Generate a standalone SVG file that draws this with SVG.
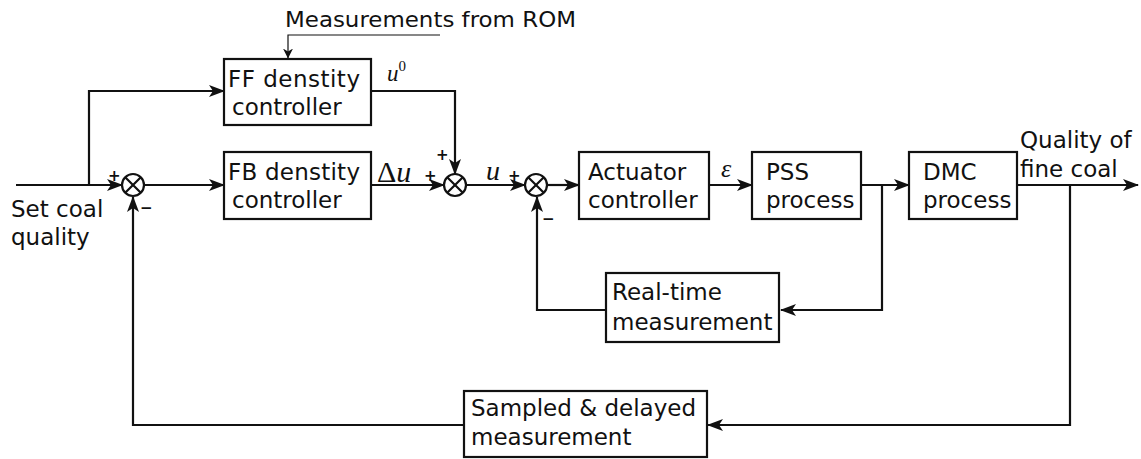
<svg xmlns="http://www.w3.org/2000/svg" width="1141" height="459" viewBox="0 0 1141 459">
<defs>
<style>
.box{fill:#fff;stroke:#111;stroke-width:2.2}
.t{font-family:"DejaVu Sans",Verdana,sans-serif;font-size:23px;fill:#111}
.s{font-family:"DejaVu Sans",Verdana,sans-serif;font-size:21px;fill:#111}
.m{font-family:"Liberation Serif","DejaVu Serif",serif;font-style:italic;fill:#111}
.sg{font-family:"DejaVu Sans",sans-serif;font-weight:bold;font-size:15px;fill:#111}
.w{fill:none;stroke:#111;stroke-width:2.2}
.thin{fill:none;stroke:#111;stroke-width:1.2}
.sum{fill:#fff;stroke:#111;stroke-width:2.2}
</style>
<marker id="ah" markerUnits="userSpaceOnUse" markerWidth="16" markerHeight="12" viewBox="0 0 16 12" refX="15" refY="6" orient="auto">
<path d="M0,0 L16,6 L0,12 L4,6 z" fill="#111"/>
</marker>
<marker id="ahs" markerUnits="userSpaceOnUse" markerWidth="10" markerHeight="10" viewBox="0 0 10 10" refX="9.5" refY="5" orient="auto">
<path d="M0,0 L10,5 L0,10 L3,5 z" fill="#111"/>
</marker>
</defs>
<rect width="1141" height="459" fill="#fff"/>

<g id="connectors">
<path class="w" d="M16,185 L122,185" marker-end="url(#ah)"/>
<path class="w" d="M89,185 L89,91 L224,91" marker-end="url(#ah)"/>
<path class="w" d="M144,185 L224,185" marker-end="url(#ah)"/>
<path class="w" d="M371,185 L444,185" marker-end="url(#ah)"/>
<path class="w" d="M371,91 L455,91 L455,174" marker-end="url(#ah)"/>
<path class="w" d="M466,185 L525,185" marker-end="url(#ah)"/>
<path class="w" d="M547,185 L579,185" marker-end="url(#ah)"/>
<path class="w" d="M709,185 L752,185" marker-end="url(#ah)"/>
<path class="w" d="M861,185 L909,185" marker-end="url(#ah)"/>
<path class="w" d="M1017,185 L1138,185" marker-end="url(#ah)"/>
<path class="w" d="M882,185 L882,310 L781,310" marker-end="url(#ah)"/>
<path class="w" d="M606,310 L537,310 L537,197" marker-end="url(#ah)"/>
<path class="w" d="M1070,185 L1070,425 L708,425" marker-end="url(#ah)"/>
<path class="w" d="M464,425 L133,425 L133,197" marker-end="url(#ah)"/>
<path class="thin" d="M440,35 L288,35 L288,58" marker-end="url(#ahs)"/>
</g>

<g id="input-label">
<text class="t" x="11" y="217">Set coal</text>
<text class="t" x="11" y="245">quality</text>
</g>

<g id="rom-label">
<text class="s" x="285" y="27" textLength="291" lengthAdjust="spacingAndGlyphs">Measurements from ROM</text>
</g>

<g id="sum1">
<circle class="sum" cx="133" cy="185" r="11"/>
<path class="w" d="M125.2,177.2 L140.8,192.8 M140.8,177.2 L125.2,192.8"/>
<text class="sg" x="108" y="181">+</text>
<text class="sg" x="140" y="213">−</text>
</g>

<g id="ff">
<rect class="box" x="224" y="59" width="147" height="66"/>
<text class="t" x="228" y="87" textLength="132" lengthAdjust="spacing">FF denstity</text>
<text class="t" x="232" y="115">controller</text>
</g>

<g id="fb">
<rect class="box" x="224" y="152" width="147" height="67"/>
<text class="t" x="228" y="180" textLength="132" lengthAdjust="spacing">FB denstity</text>
<text class="t" x="232" y="208">controller</text>
</g>

<g id="labels">
<text class="m" x="387" y="81" font-size="23">u<tspan font-size="15" font-style="normal" dy="-10">0</tspan></text>
<text class="m" x="377" y="182" font-size="30"><tspan font-style="normal">Δ</tspan>u</text>
<text class="m" x="486" y="180" font-size="28">u</text>
<text class="m" x="721" y="177" font-size="26">ε</text>
</g>

<g id="sum2">
<circle class="sum" cx="455" cy="185" r="11"/>
<path class="w" d="M447.2,177.2 L462.8,192.8 M462.8,177.2 L447.2,192.8"/>
<text class="sg" x="424" y="181">+</text>
<text class="sg" x="436" y="160">+</text>
</g>

<g id="sum3">
<circle class="sum" cx="536" cy="185" r="11"/>
<path class="w" d="M528.2,177.2 L543.8,192.8 M543.8,177.2 L528.2,192.8"/>
<text class="sg" x="508" y="181">+</text>
<text class="sg" x="542" y="224">−</text>
</g>

<g id="actuator">
<rect class="box" x="579" y="152" width="130" height="67"/>
<text class="t" x="588" y="180">Actuator</text>
<text class="t" x="588" y="208">controller</text>
</g>

<g id="pss">
<rect class="box" x="752" y="152" width="109" height="67"/>
<text class="t" x="766" y="180">PSS</text>
<text class="t" x="766" y="208">process</text>
</g>

<g id="dmc">
<rect class="box" x="909" y="152" width="108" height="67"/>
<text class="t" x="923" y="180">DMC</text>
<text class="t" x="923" y="208">process</text>
</g>

<g id="output-label">
<text class="t" x="1020" y="148">Quality of</text>
<text class="t" x="1020" y="177">fine coal</text>
</g>

<g id="realtime">
<rect class="box" x="606" y="273" width="173" height="69"/>
<text class="t" x="612" y="300">Real-time</text>
<text class="t" x="612" y="330">measurement</text>
</g>

<g id="sampled">
<rect class="box" x="464" y="391" width="243" height="66"/>
<text class="t" x="471" y="416">Sampled &amp; delayed</text>
<text class="t" x="471" y="445">measurement</text>
</g>
</svg>
